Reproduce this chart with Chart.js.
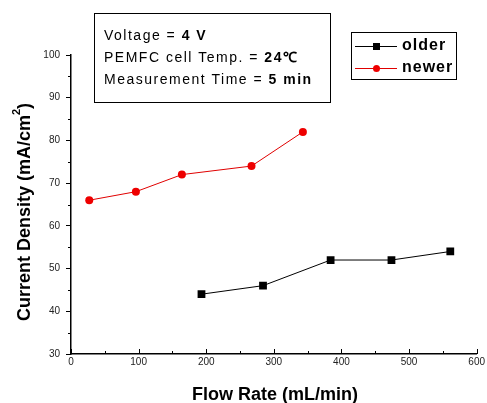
<!DOCTYPE html>
<html>
<head>
<meta charset="utf-8">
<script src="https://cdn.jsdelivr.net/npm/chart.js@4.4.0/dist/chart.umd.min.js"></script>
<style>
  html,body{margin:0;padding:0;background:#fff;}
  #wrap{position:relative;width:487px;height:403px;}
</style>
</head>
<body>
<div id="wrap"><canvas id="c" width="487" height="403"></canvas></div>
<script>
// Data
const olderFlow = [193, 284, 384, 474, 561];
const olderDensity = [44, 46, 52, 52, 54];
const newerFlow = [27, 96, 164, 267, 343];
const newerDensity = [66, 68, 72, 74, 82];
const xTicks = [0, 100, 200, 300, 400, 500, 600];
const yTicks = [30, 40, 50, 60, 70, 80, 90, 100];
const seriesNames = ['older', 'newer'];
const xTitle = 'Flow Rate (mL/min)';
const yTitleParts = ['Current Density (mA/cm', '2', ')'];
const infoLines = [
  ['Voltage = ', '4 V'],
  ['PEMFC cell Temp. = ', '24\u2103'],
  ['Measurement Time = ', '5 min']
];

const toPts = (xs, ys) => xs.map((x, i) => ({x: x, y: ys[i]}));

const FONT = '"Liberation Sans", Arial, sans-serif';

const decor = {
  id: 'decor',
  afterDraw(chart) {
    const ctx = chart.ctx;
    const xs = chart.scales.x, ys = chart.scales.y;
    ctx.save();
    ctx.strokeStyle = '#000';
    ctx.lineWidth = 1;
    // x ticks (inward), major and minor
    xTicks.forEach((v, i) => {
      const px = Math.round(xs.getPixelForValue(v)) + 0.5;
      ctx.beginPath();
      ctx.moveTo(px, ys.bottom);
      ctx.lineTo(px, ys.bottom - 5);
      ctx.stroke();
      if (i < xTicks.length - 1) {
        const mv = (v + xTicks[i + 1]) / 2;
        const mx = Math.round(xs.getPixelForValue(mv)) + 0.5;
        ctx.beginPath();
        ctx.moveTo(mx, ys.bottom);
        ctx.lineTo(mx, ys.bottom - 3);
        ctx.stroke();
      }
    });
    // y minor ticks (outward)
    for (let i = 0; i < yTicks.length - 1; i++) {
      const v = (yTicks[i] + yTicks[i + 1]) / 2;
      const py = Math.round(ys.getPixelForValue(v)) + 0.5;
      ctx.beginPath();
      ctx.moveTo(xs.left - 3, py);
      ctx.lineTo(xs.left, py);
      ctx.stroke();
    }
    // axis titles
    ctx.fillStyle = '#000';
    ctx.textBaseline = 'middle';
    ctx.textAlign = 'center';
    ctx.font = 'bold 18px ' + FONT;
    ctx.fillText(xTitle, 275, 395);

    ctx.save();
    ctx.translate(25, 212);
    ctx.rotate(-Math.PI / 2);
    ctx.textAlign = 'left';
    ctx.font = 'bold 18px ' + FONT;
    const w0 = ctx.measureText(yTitleParts[0]).width;
    const w2 = ctx.measureText(yTitleParts[2]).width;
    ctx.font = 'bold 11px ' + FONT;
    const w1 = ctx.measureText(yTitleParts[1]).width;
    const total = w0 + w1 + w2;
    let sx = -total / 2;
    ctx.font = 'bold 18px ' + FONT;
    ctx.fillText(yTitleParts[0], sx, 0);
    sx += w0;
    ctx.font = 'bold 11px ' + FONT;
    ctx.fillText(yTitleParts[1], sx, -8);
    sx += w1;
    ctx.font = 'bold 18px ' + FONT;
    ctx.fillText(yTitleParts[2], sx, 0);
    ctx.restore();

    // info box
    ctx.strokeStyle = '#000';
    ctx.lineWidth = 1;
    ctx.strokeRect(94.5, 13.5, 236, 89);
    ctx.fillStyle = '#000';
    ctx.textBaseline = 'middle';
    ctx.textAlign = 'left';
    ctx.letterSpacing = '1.5px';
    const lineY = [36, 58, 80];
    infoLines.forEach((pair, i) => {
      ctx.font = '14px ' + FONT;
      ctx.fillText(pair[0], 104, lineY[i]);
      const w = ctx.measureText(pair[0]).width;
      ctx.font = 'bold 14px ' + FONT;
      ctx.fillText(pair[1], 104 + w, lineY[i]);
    });
    // legend box
    ctx.letterSpacing = '0px';
    ctx.strokeRect(351.5, 32.5, 105, 47);
    const legY = [46, 68];
    chart.data.datasets.forEach((ds, i) => {
      const y = legY[i] + 0.5;
      ctx.strokeStyle = ds.borderColor;
      ctx.lineWidth = 1;
      ctx.beginPath();
      ctx.moveTo(355, y);
      ctx.lineTo(397, y);
      ctx.stroke();
      ctx.fillStyle = ds.pointBackgroundColor;
      if (ds.pointStyle === 'rect') {
        ctx.fillRect(373, y - 3.5, 7, 7);
      } else {
        ctx.beginPath();
        ctx.arc(376.5, y, 3.5, 0, Math.PI * 2);
        ctx.fill();
      }
      ctx.fillStyle = '#000';
      ctx.font = 'bold 16px ' + FONT;
      ctx.letterSpacing = '1px';
      ctx.fillText(ds.label, 402, legY[i]);
      ctx.letterSpacing = '0px';
    });
    ctx.restore();
  }
};

new Chart(document.getElementById('c'), {
  type: 'scatter',
  data: {
    datasets: [
      {
        label: seriesNames[0],
        data: toPts(olderFlow, olderDensity),
        showLine: true,
        borderColor: '#000000',
        backgroundColor: '#000000',
        pointBackgroundColor: '#000000',
        pointBorderColor: '#000000',
        borderWidth: 1,
        pointStyle: 'rect',
        pointRadius: 5.5,
        pointBorderWidth: 0
      },
      {
        label: seriesNames[1],
        data: toPts(newerFlow, newerDensity),
        showLine: true,
        borderColor: '#e00000',
        backgroundColor: '#ee0000',
        pointBackgroundColor: '#ee0000',
        pointBorderColor: '#ee0000',
        borderWidth: 1,
        pointStyle: 'circle',
        pointRadius: 4,
        pointBorderWidth: 0
      }
    ]
  },
  options: {
    responsive: false,
    animation: false,
    layout: { padding: { top: 55, right: 9, left: 0, bottom: 0 } },
    plugins: {
      legend: { display: false },
      tooltip: { enabled: false }
    },
    scales: {
      x: {
        type: 'linear',
        min: 0, max: 600,
        afterBuildTicks: (s) => { s.ticks = xTicks.map(v => ({value: v})); },
        afterFit: (s) => { s.height = 49; },
        border: { display: true, color: '#000', width: 1.5 },
        grid: { drawOnChartArea: false, drawTicks: false, color: '#000' },
        ticks: { color: '#222', font: { family: FONT, size: 10 }, padding: 2, maxRotation: 0 },
        title: { display: false }
      },
      y: {
        type: 'linear',
        min: 30, max: 100,
        afterBuildTicks: (s) => { s.ticks = yTicks.map(v => ({value: v})); },
        afterFit: (s) => { s.width = 71; },
        border: { display: true, color: '#000', width: 1.5 },
        grid: { drawOnChartArea: false, drawTicks: true, tickLength: 5, color: '#000' },
        ticks: { color: '#222', font: { family: FONT, size: 10 }, padding: 6 },
        title: { display: false }
      }
    }
  },
  plugins: [decor]
});
</script>
</body>
</html>
